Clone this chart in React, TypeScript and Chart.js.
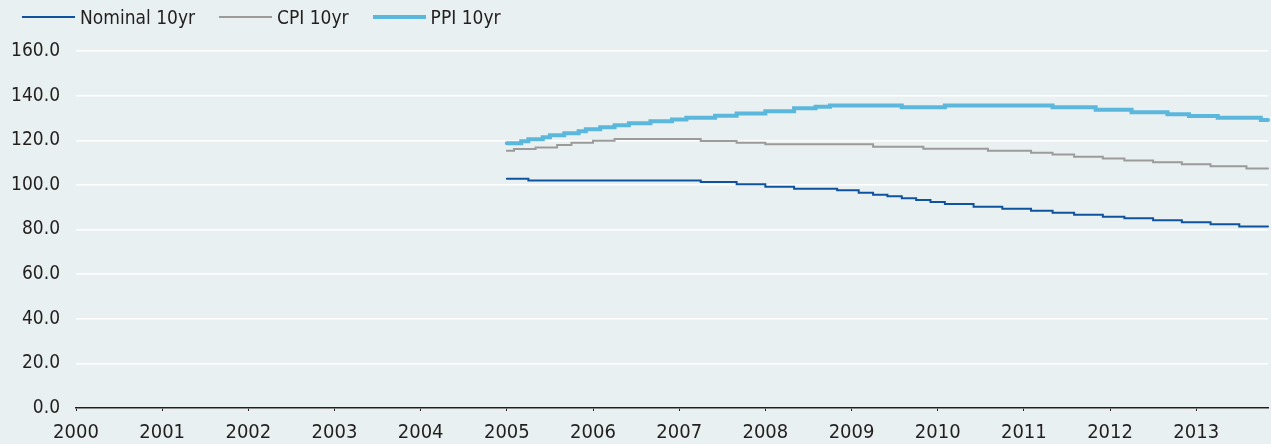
import React, { useEffect, useRef } from "react";
import { Chart, registerables } from "chart.js";

Chart.register(...registerables);

// Categories: monthly, 2000-01 .. 2013-11
const YEARS = ["2000", "2001", "2002", "2003", "2004", "2005", "2006", "2007", "2008", "2009", "2010", "2011", "2012", "2013"];
const MONTHS = ["01", "02", "03", "04", "05", "06", "07", "08", "09", "10", "11", "12"];
const LAST_MONTH = "2013-11";

const Y_TICKS = [0, 20, 40, 60, 80, 100, 120, 140, 160];

const LEGEND_NAMES = ["Nominal 10yr", "CPI 10yr", "PPI 10yr"];

// Series values, 2005-01 .. 2013-11 (before 2005: no data)
const NOMINAL_10YR = [
  102.8, 102.8, 102.8, 102.0, 102.0, 102.0, 102.0, 102.0, 102.0, 102.0, 102.0, 102.0,
  102.0, 102.0, 102.0, 102.0, 102.0, 102.0, 102.0, 102.0, 102.0, 102.0, 102.0, 102.0,
  102.0, 102.0, 102.0, 101.3, 101.3, 101.3, 101.3, 101.3, 100.3, 100.3, 100.3, 100.3,
  99.2, 99.2, 99.2, 99.2, 98.3, 98.3, 98.3, 98.3, 98.3, 98.3, 97.6, 97.6,
  97.6, 96.5, 96.5, 95.6, 95.6, 94.9, 94.9, 94.0, 94.0, 93.2, 93.2, 92.3,
  92.3, 91.4, 91.4, 91.4, 91.4, 90.2, 90.2, 90.2, 90.2, 89.3, 89.3, 89.3,
  89.3, 88.4, 88.4, 88.4, 87.5, 87.5, 87.5, 86.6, 86.6, 86.6, 86.6, 85.7,
  85.7, 85.7, 85.0, 85.0, 85.0, 85.0, 84.1, 84.1, 84.1, 84.1, 83.2, 83.2,
  83.2, 83.2, 82.3, 82.3, 82.3, 82.3, 81.4, 81.4, 81.4, 81.4, 81.4,
];

const CPI_10YR = [
  115.3, 116.1, 116.1, 116.1, 116.8, 116.8, 116.8, 117.9, 117.9, 118.9, 118.9, 118.9,
  119.8, 119.8, 119.8, 120.6, 120.6, 120.6, 120.6, 120.6, 120.6, 120.6, 120.6, 120.6,
  120.6, 120.6, 120.6, 119.7, 119.7, 119.7, 119.7, 119.7, 118.9, 118.9, 118.9, 118.9,
  118.2, 118.2, 118.2, 118.2, 118.2, 118.2, 118.2, 118.2, 118.2, 118.2, 118.2, 118.2,
  118.2, 118.2, 118.2, 117.1, 117.1, 117.1, 117.1, 117.1, 117.1, 117.1, 116.2, 116.2,
  116.2, 116.2, 116.2, 116.2, 116.2, 116.2, 116.2, 115.3, 115.3, 115.3, 115.3, 115.3,
  115.3, 114.4, 114.4, 114.4, 113.6, 113.6, 113.6, 112.6, 112.6, 112.6, 112.6, 111.8,
  111.8, 111.8, 110.9, 110.9, 110.9, 110.9, 110.1, 110.1, 110.1, 110.1, 109.2, 109.2,
  109.2, 109.2, 108.3, 108.3, 108.3, 108.3, 108.3, 107.3, 107.3, 107.3, 107.3,
];

const PPI_10YR = [
  118.6, 118.6, 119.5, 120.4, 120.4, 121.3, 122.2, 122.2, 123.1, 123.1, 124.0, 124.9,
  124.9, 125.8, 125.8, 126.7, 126.7, 127.6, 127.6, 127.6, 128.5, 128.5, 128.5, 129.3,
  129.3, 130.1, 130.1, 130.1, 130.1, 131.0, 131.0, 131.0, 132.0, 132.0, 132.0, 132.0,
  133.0, 133.0, 133.0, 133.0, 134.3, 134.3, 134.3, 135.0, 135.0, 135.6, 135.6, 135.6,
  135.6, 135.6, 135.6, 135.6, 135.6, 135.6, 135.6, 134.8, 134.8, 134.8, 134.8, 134.8,
  134.8, 135.6, 135.6, 135.6, 135.6, 135.6, 135.6, 135.6, 135.6, 135.6, 135.6, 135.6,
  135.6, 135.6, 135.6, 135.6, 134.8, 134.8, 134.8, 134.8, 134.8, 134.8, 133.7, 133.7,
  133.7, 133.7, 133.7, 132.6, 132.6, 132.6, 132.6, 132.6, 131.6, 131.6, 131.6, 130.9,
  130.9, 130.9, 130.9, 130.1, 130.1, 130.1, 130.1, 130.1, 130.1, 129.1, 129.1,
];

const NO_DATA_MONTHS = 60; // 2000-01 .. 2004-12 are empty

const COLORS = ["#0f539f", "#9b9b9b", "#5bb7db"];
const WIDTHS = [2, 2, 4];
const BG = "#e8f0f1";
const TEXT = "#231f20";
const FONT_FAMILY = "'Liberation Sans Narrow', 'Arial Narrow', 'DejaVu Sans Condensed', sans-serif";

function buildLabels(): string[] {
  const out: string[] = [];
  for (const y of YEARS) {
    for (const m of MONTHS) {
      const l = `${y}-${m}`;
      out.push(l);
      if (l === LAST_MONTH) return out;
    }
  }
  return out;
}

export default function App() {
  const ref = useRef<HTMLCanvasElement | null>(null);

  useEffect(() => {
    document.body.style.margin = "0";
    document.body.style.background = BG;
    document.documentElement.style.background = BG;
    const labels = buildLabels();
    const pad = new Array(NO_DATA_MONTHS).fill(null);
    const series = [NOMINAL_10YR, CPI_10YR, PPI_10YR];
    const chart = new Chart(ref.current as HTMLCanvasElement, {
      type: "line",
      data: {
        labels,
        datasets: series.map((s, i) => ({
          label: LEGEND_NAMES[i],
          data: [...pad, ...s],
          borderColor: COLORS[i],
          backgroundColor: COLORS[i],
          borderWidth: WIDTHS[i],
          borderCapStyle: "round",
          pointRadius: 0,
          pointHoverRadius: 0,
          stepped: true,
          fill: false,
          order: 3 - i,
        })),
      },
      options: {
        animation: false,
        responsive: false,
        devicePixelRatio: 1,
        layout: { padding: { top: 51, right: 3, left: 0, bottom: 0 } },
        plugins: { legend: { display: false }, tooltip: { enabled: false } },
        scales: {
          x: {
            type: "category",
            offset: false,
            grid: { display: true, drawOnChartArea: false, drawTicks: true, tickLength: 3, color: TEXT, lineWidth: 1 },
            border: { display: true, color: TEXT, width: 1.5 },
            ticks: {
              autoSkip: false,
              maxRotation: 0,
              minRotation: 0,
              padding: 10,
              color: TEXT,
              font: { family: FONT_FAMILY, size: 20 },
              callback: (_v: any, i: number) => (labels[i].endsWith("-01") ? labels[i].slice(0, 4) : null),
            },
            afterFit: (s: any) => {
              s.height = 36;
            },
          },
          y: {
            min: Y_TICKS[0],
            max: Y_TICKS[Y_TICKS.length - 1],
            afterBuildTicks: (s: any) => {
              s.ticks = Y_TICKS.map((v) => ({ value: v }));
            },
            ticks: {
              padding: 16,
              color: TEXT,
              font: { family: FONT_FAMILY, size: 19 },
              callback: (v: any) => Number(v).toFixed(1),
            },
            grid: { color: "#ffffff", lineWidth: 1.5, drawTicks: false },
            border: { display: false },
            afterFit: (s: any) => {
              s.width = 76;
            },
          },
        },
      },
    });
    return () => chart.destroy();
  }, []);

  return (
    <div style={{ position: "relative", width: 1271, height: 444, background: BG }}>
      <div
        style={{
          position: "absolute",
          top: 6,
          left: 22,
          display: "flex",
          alignItems: "center",
          fontFamily: FONT_FAMILY,
          fontSize: 19,
          lineHeight: "22px",
          color: TEXT,
        }}
      >
        {LEGEND_NAMES.map((n, i) => (
          <div key={n} style={{ display: "flex", alignItems: "center", marginRight: 24 }}>
            <span style={{ display: "inline-block", width: 53, height: WIDTHS[i], background: COLORS[i], marginRight: 5 }} />
            <span>{n}</span>
          </div>
        ))}
      </div>
      <canvas ref={ref} width={1271} height={444} style={{ display: "block" }} />
    </div>
  );
}
